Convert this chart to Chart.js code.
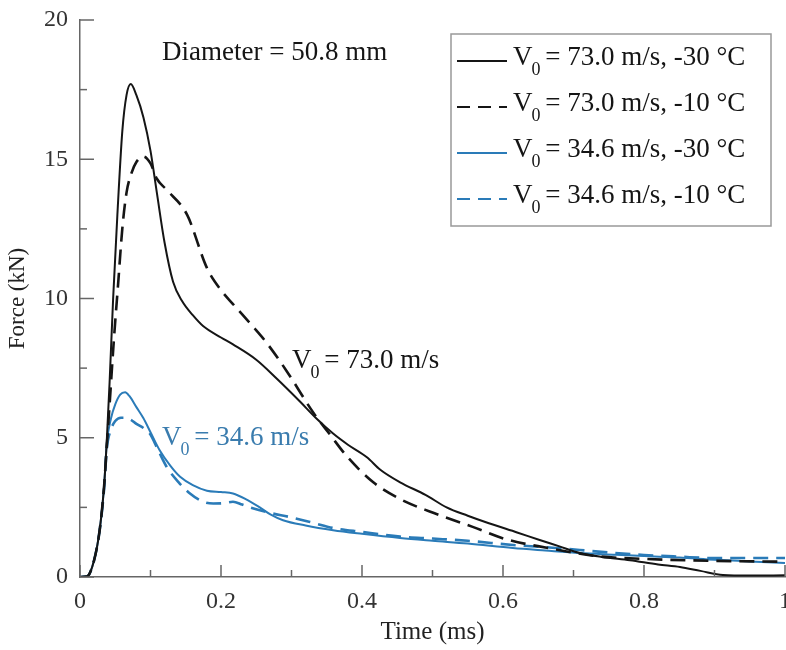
<!DOCTYPE html>
<html>
<head>
<meta charset="utf-8">
<script src="https://cdn.jsdelivr.net/npm/chart.js@4.4.1/dist/chart.umd.min.js"></script>
<style>
  html, body { margin: 0; padding: 0; background: #fff; }
  #wrap { width: 786px; height: 650px; position: relative; }
</style>
</head>
<body>
<div id="wrap"><canvas id="forceChart"></canvas></div>
<script>
// data (time in ms, force in kN)
const seriesLabels = ['V0 = 73.0 m/s, -30 °C', 'V0 = 73.0 m/s, -10 °C', 'V0 = 34.6 m/s, -30 °C', 'V0 = 34.6 m/s, -10 °C'];

const time73cold = [0, 0.01, 0.02, 0.028, 0.034, 0.038, 0.042, 0.047, 0.053, 0.06, 0.066, 0.072, 0.08, 0.09, 0.1, 0.109, 0.12, 0.132, 0.145, 0.16, 0.175, 0.2, 0.217, 0.25, 0.28, 0.312, 0.335, 0.359, 0.38, 0.407, 0.426, 0.454, 0.49, 0.52, 0.55, 0.58, 0.62, 0.652, 0.68, 0.709, 0.74, 0.78, 0.82, 0.851, 0.88, 0.912, 0.95, 1.0];
const force73cold = [0, 0.02, 0.6, 1.7, 3.2, 4.9, 7.0, 10.0, 13.0, 16.0, 17.3, 17.7, 17.3, 16.5, 15.3, 13.8, 12.0, 10.6, 9.9, 9.4, 9.0, 8.6, 8.35, 7.8, 7.1, 6.3, 5.7, 5.15, 4.75, 4.3, 3.85, 3.4, 2.95, 2.5, 2.2, 1.93, 1.6, 1.33, 1.1, 0.86, 0.72, 0.6, 0.45, 0.36, 0.22, 0.07, 0.05, 0.06];

const time73warm = [0, 0.01, 0.02, 0.028, 0.034, 0.038, 0.042, 0.048, 0.054, 0.06, 0.066, 0.073, 0.08, 0.09, 0.1, 0.109, 0.123, 0.152, 0.18, 0.2, 0.217, 0.245, 0.265, 0.293, 0.331, 0.355, 0.378, 0.416, 0.454, 0.496, 0.557, 0.605, 0.662, 0.733, 0.8, 0.9, 1.0];
const force73warm = [0, 0.02, 0.6, 1.7, 3.2, 4.7, 6.2, 8.5, 10.5, 12.5, 13.8, 14.5, 14.9, 15.1, 14.85, 14.3, 13.9, 13.0, 11.1, 10.3, 9.8, 9.0, 8.4, 7.4, 5.9, 5.1, 4.35, 3.4, 2.8, 2.35, 1.8, 1.35, 1.05, 0.75, 0.65, 0.58, 0.55];

const time34cold = [0, 0.01, 0.02, 0.028, 0.034, 0.038, 0.044, 0.05, 0.057, 0.064, 0.07, 0.08, 0.09, 0.1, 0.113, 0.128, 0.142, 0.16, 0.18, 0.2, 0.217, 0.235, 0.255, 0.27, 0.288, 0.32, 0.359, 0.4, 0.454, 0.5, 0.55, 0.614, 0.66, 0.709, 0.76, 0.8, 0.85, 0.9, 0.95, 1.0];
const force34cold = [0, 0.02, 0.6, 1.7, 3.2, 4.8, 5.7, 6.2, 6.55, 6.63, 6.5, 6.1, 5.7, 5.2, 4.55, 4.0, 3.6, 3.3, 3.1, 3.05, 3.0, 2.8, 2.5, 2.25, 2.04, 1.85, 1.68, 1.55, 1.4, 1.3, 1.2, 1.04, 0.95, 0.86, 0.8, 0.75, 0.7, 0.62, 0.56, 0.5];

const time34warm = [0, 0.01, 0.02, 0.028, 0.034, 0.038, 0.044, 0.05, 0.058, 0.065, 0.072, 0.08, 0.09, 0.099, 0.11, 0.123, 0.14, 0.156, 0.175, 0.189, 0.203, 0.217, 0.23, 0.245, 0.27, 0.298, 0.33, 0.359, 0.4, 0.454, 0.5, 0.55, 0.614, 0.66, 0.709, 0.75, 0.8, 0.85, 0.9, 0.95, 1.0];
const force34warm = [0, 0.02, 0.6, 1.7, 3.1, 4.6, 5.3, 5.6, 5.72, 5.72, 5.65, 5.5, 5.35, 5.15, 4.6, 3.95, 3.4, 3.0, 2.7, 2.64, 2.65, 2.7, 2.6, 2.47, 2.3, 2.15, 1.95, 1.76, 1.62, 1.45, 1.38, 1.3, 1.15, 1.07, 0.97, 0.88, 0.79, 0.73, 0.68, 0.68, 0.68];

const xTickLabels = ['0', '0.2', '0.4', '0.6', '0.8', '1'];
const yTickLabels = ['0', '5', '10', '15', '20'];

const BLACK = '#151515';
const BLUE = '#2a7bb8';
const SERIF = '"Liberation Serif", "Times New Roman", serif';

function pts(t, f) {
  return t.map((v, i) => ({ x: v, y: f[i] }));
}

// "V0 ..." text with the 0 as a subscript
function drawV0(ctx, text, x, y, size, color) {
  const rest = text.replace(/^V0/, '');
  ctx.save();
  ctx.fillStyle = color;
  ctx.textBaseline = 'alphabetic';
  ctx.textAlign = 'left';
  ctx.font = size + 'px ' + SERIF;
  ctx.fillText('V', x, y);
  let cx = x + ctx.measureText('V').width - 1;
  const sub = Math.round(size * 0.68);
  ctx.font = sub + 'px ' + SERIF;
  ctx.fillText('0', cx, y + size * 0.36);
  cx += ctx.measureText('0').width - 2;
  ctx.font = size + 'px ' + SERIF;
  ctx.fillText(rest, cx, y);
  ctx.restore();
}

const innerTicks = {
  id: 'innerTicks',
  afterDraw(chart) {
    const ctx = chart.ctx;
    const xs = chart.scales.x, ys = chart.scales.y;
    const area = chart.chartArea;
    ctx.save();
    ctx.strokeStyle = '#666';
    ctx.lineWidth = 1.5;
    xs.ticks.forEach(t => {
      const px = xs.getPixelForValue(t.value);
      const major = Math.abs(t.value / 0.2 - Math.round(t.value / 0.2)) < 1e-6;
      ctx.beginPath();
      ctx.moveTo(px, area.bottom);
      ctx.lineTo(px, area.bottom - (major ? 12 : 7));
      ctx.stroke();
    });
    ys.ticks.forEach(t => {
      const py = ys.getPixelForValue(t.value);
      const major = Math.abs(t.value / 5 - Math.round(t.value / 5)) < 1e-6;
      ctx.beginPath();
      ctx.moveTo(area.left, py);
      ctx.lineTo(area.left + (major ? 14 : 7), py);
      ctx.stroke();
    });
    ctx.restore();
  }
};

const notes = {
  id: 'notes',
  afterDraw(chart) {
    const ctx = chart.ctx;
    ctx.save();
    ctx.font = '27px ' + SERIF;
    ctx.fillStyle = BLACK;
    ctx.textBaseline = 'alphabetic';
    ctx.fillText('Diameter = 50.8 mm', 162, 60);
    ctx.restore();
    drawV0(ctx, 'V0 = 73.0 m/s', 292, 368, 27, BLACK);
    drawV0(ctx, 'V0 = 34.6 m/s', 162, 445, 27, '#3a7cae');
  }
};

const customLegend = {
  id: 'customLegend',
  afterDraw(chart) {
    const ctx = chart.ctx;
    const left = 451, top = 34, right = 771, bottom = 226;
    ctx.save();
    ctx.fillStyle = '#fff';
    ctx.fillRect(left, top, right - left, bottom - top);
    ctx.strokeStyle = '#999';
    ctx.lineWidth = 1.5;
    ctx.strokeRect(left, top, right - left, bottom - top);
    chart.data.datasets.forEach((ds, i) => {
      const base = 65 + i * 46;
      ctx.strokeStyle = ds.borderColor;
      ctx.lineWidth = 2;
      ctx.setLineDash(ds.borderDash && ds.borderDash.length ? [13, 8] : []);
      ctx.beginPath();
      ctx.moveTo(457, base - 4);
      ctx.lineTo(507, base - 4);
      ctx.stroke();
      ctx.setLineDash([]);
      drawV0(ctx, ds.label, 513, base, 27, BLACK);
    });
    ctx.restore();
  }
};

const ctx = document.getElementById('forceChart').getContext('2d');
new Chart(ctx, {
  type: 'line',
  data: {
    datasets: [
      { label: seriesLabels[0], data: pts(time73cold, force73cold), borderColor: BLACK, borderWidth: 2, borderDash: [] },
      { label: seriesLabels[1], data: pts(time73warm, force73warm), borderColor: BLACK, borderWidth: 2.6, borderDash: [15, 8] },
      { label: seriesLabels[2], data: pts(time34cold, force34cold), borderColor: BLUE, borderWidth: 2, borderDash: [] },
      { label: seriesLabels[3], data: pts(time34warm, force34warm), borderColor: BLUE, borderWidth: 2.6, borderDash: [15, 8] }
    ]
  },
  options: {
    responsive: true,
    maintainAspectRatio: false,
    animation: false,
    layout: { padding: { top: 20, right: 1, left: 0, bottom: 0 } },
    elements: {
      point: { radius: 0 },
      line: { cubicInterpolationMode: 'monotone', fill: false }
    },
    plugins: {
      legend: { display: false },
      tooltip: { enabled: false }
    },
    scales: {
      x: {
        type: 'linear',
        min: 0,
        max: 1,
        afterFit(scale) {
          scale.height = 73;
          scale.paddingLeft = 0;
          scale.paddingRight = 0;
        },
        border: { display: true, color: '#666', width: 1.5 },
        grid: { display: false, drawTicks: false },
        ticks: {
          stepSize: 0.1,
          padding: 10,
          maxRotation: 0,
          autoSkip: false,
          color: '#333',
          font: { family: SERIF, size: 24 },
          callback(v) {
            const k = Math.round(v / 0.2);
            return Math.abs(v / 0.2 - k) < 1e-6 ? xTickLabels[k] : '';
          }
        },
        title: {
          display: true,
          text: 'Time (ms)',
          color: '#222',
          padding: { top: 0, bottom: 3 },
          font: { family: SERIF, size: 25 }
        }
      },
      y: {
        min: 0,
        max: 20,
        afterFit(scale) {
          scale.width = 80;
          scale.paddingTop = 0;
          scale.paddingBottom = 0;
        },
        border: { display: true, color: '#666', width: 1.5 },
        grid: { display: false, drawTicks: false },
        ticks: {
          stepSize: 2.5,
          padding: 12,
          autoSkip: false,
          color: '#333',
          font: { family: SERIF, size: 24 },
          callback(v) {
            const k = Math.round(v / 5);
            return Math.abs(v / 5 - k) < 1e-6 ? yTickLabels[k] : '';
          }
        },
        title: {
          display: true,
          text: 'Force (kN)',
          color: '#222',
          padding: { top: 4, bottom: 0 },
          font: { family: SERIF, size: 23 }
        }
      }
    }
  },
  plugins: [innerTicks, notes, customLegend]
});
</script>
</body>
</html>
